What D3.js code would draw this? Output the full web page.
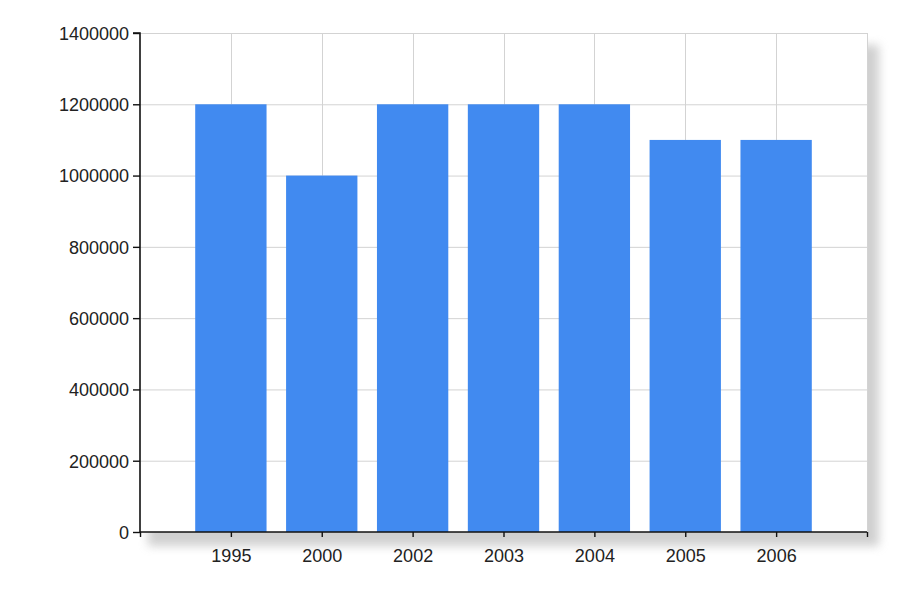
<!DOCTYPE html>
<html><head><meta charset="utf-8">
<script src="https://cdn.jsdelivr.net/npm/d3@7"></script>
<style>body{margin:0;background:#fff}svg{display:block}text{font-family:Arial,"Liberation Sans",sans-serif}</style>
</head><body><svg id="c" width="900" height="600"></svg>
<script>
const categories = ["1995","2000","2002","2003","2004","2005","2006"];
const values = [1200000,1000000,1200000,1200000,1200000,1100000,1100000];
const yTicks = [0,200000,400000,600000,800000,1000000,1200000,1400000];

const svg = d3.select("#c");
const L=140, R=867, T=33, B=532;
const x = d3.scaleLinear().domain([0, categories.length+1]).range([L,R]);
const y = d3.scaleLinear().domain([0,1400000]).range([B,T]);
const step = x(1)-x(0);
const bw = step*0.785;

const defs = svg.append("defs");
const f = defs.append("filter").attr("id","sh").attr("x","-10%").attr("y","-10%").attr("width","130%").attr("height","130%");
f.append("feGaussianBlur").attr("stdDeviation",5);
svg.append("rect").attr("x",L+8).attr("y",T+12).attr("width",R-L+4).attr("height",B-T+2)
  .attr("fill","#aaa").attr("opacity",0.55).attr("filter","url(#sh)");
svg.append("rect").attr("x",L).attr("y",T).attr("width",R-L).attr("height",B-T).attr("fill","#fff");

// gridlines
const g = svg.append("g");
g.selectAll("line.h").data(yTicks.slice(1)).join("line").attr("x1",L).attr("x2",R)
  .attr("y1",d=>y(d)+0.5).attr("y2",d=>y(d)+0.5).attr("stroke","#d3d3d3");
g.selectAll("line.v").data(d3.range(1,categories.length+2)).join("line")
  .attr("x1",d=>Math.round(x(d))+0.5).attr("x2",d=>Math.round(x(d))+0.5).attr("y1",T).attr("y2",B).attr("stroke","#d3d3d3");

svg.append("g").selectAll("rect").data(values).join("rect")
  .attr("x",(d,i)=>x(i+1)-bw/2).attr("width",bw)
  .attr("y",d=>y(d)).attr("height",d=>B-y(d)).attr("fill","#418af0");

const yAxis = d3.axisLeft(y).tickValues(yTicks).tickFormat(d3.format("d")).tickSize(7).tickPadding(4);
const ya = svg.append("g").attr("transform",`translate(${L},0)`).call(yAxis);
ya.select(".domain").attr("stroke","#111").attr("stroke-width",1.6).attr("d",`M-7,${T}H0V${B}`);
ya.selectAll(".tick line").attr("stroke","#111").attr("stroke-width",1.4);
ya.selectAll("text").attr("font-size",18).attr("fill","#222").attr("dy","0.35em");

const xAxis = d3.axisBottom(x).tickValues(d3.range(0,categories.length+2))
  .tickFormat(d=> (d>=1 && d<=categories.length) ? categories[d-1] : "").tickSize(5).tickPadding(12);
const xa = svg.append("g").attr("transform",`translate(0,${B})`).call(xAxis);
xa.select(".domain").attr("stroke","#111").attr("stroke-width",1.6).attr("d",`M${L},0H${R}`);
xa.selectAll(".tick line").attr("stroke","#111").attr("stroke-width",1.4);
xa.selectAll("text").attr("font-size",18).attr("fill","#222");
</script></body></html>
